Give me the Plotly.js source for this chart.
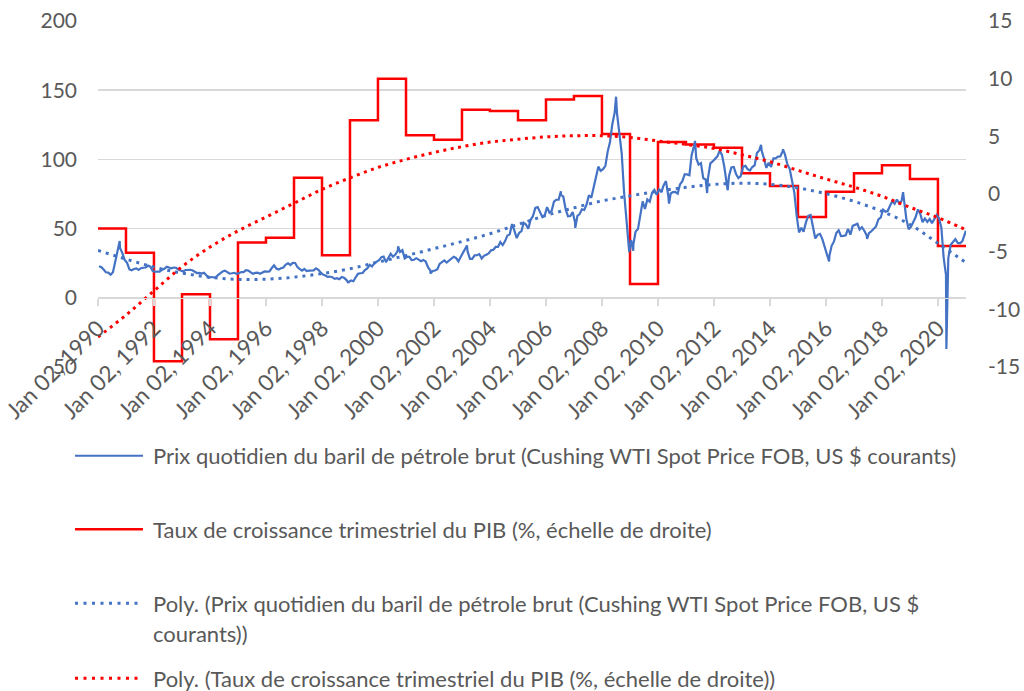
<!DOCTYPE html>
<html><head><meta charset="utf-8">
<script src="https://cdn.plot.ly/plotly-3.0.1.min.js"></script>
<style>html,body{margin:0;padding:0;background:#fff}#chart{width:1024px;height:691px}</style>
</head><body><div id="chart"></div>
<script>
// ---------- DATA ----------
// WTI daily price, read approx. as monthly levels (Jan 1990 .. Dec 2020), US $
const oilStartYear = 1990;
const oilMonthly = [
22.86,22.11,20.39,18.43,18.20,16.70,18.45,27.31,33.51,36.04,32.33,27.28,
25.23,20.48,19.90,20.83,21.23,20.19,21.40,21.69,21.89,23.23,22.46,19.50,
18.79,19.01,18.92,20.23,20.98,22.39,21.78,21.34,21.88,21.69,20.34,19.41,
19.03,20.09,20.32,20.25,19.95,19.09,17.89,18.01,17.50,18.15,16.61,14.52,
15.03,14.78,14.68,16.42,17.89,19.06,19.65,18.38,17.45,17.72,18.07,17.16,
18.04,18.57,18.54,19.90,19.74,18.45,17.33,18.02,18.23,17.43,17.99,19.03,
18.86,19.09,21.33,23.50,21.17,20.42,21.30,21.90,23.97,24.88,23.71,25.23,
25.13,22.18,20.97,19.70,20.82,19.26,19.66,19.95,19.80,21.33,20.19,18.33,
16.72,16.06,15.12,15.35,14.91,13.72,14.17,13.47,15.03,14.46,13.00,11.35,
12.52,12.01,14.68,17.31,17.72,17.92,20.10,21.28,23.80,22.69,25.00,26.10,
27.26,29.37,29.84,25.72,28.79,31.82,29.70,31.26,33.88,33.11,34.42,28.44,
29.59,29.61,27.25,27.49,28.63,27.60,26.43,27.37,26.20,22.17,19.64,19.39,
19.72,20.72,24.53,26.18,27.04,25.52,26.97,28.39,29.66,28.84,26.35,29.46,
32.95,35.83,33.51,28.17,28.11,30.66,30.76,31.57,28.31,30.34,31.11,32.13,
34.31,34.69,36.74,36.75,40.28,38.03,40.78,44.90,45.94,53.28,48.47,43.15,
46.84,48.15,54.19,52.98,49.83,56.35,58.99,64.98,65.59,62.26,58.32,59.41,
65.49,61.63,62.69,69.44,70.84,70.95,74.41,73.04,63.80,58.89,59.08,61.96,
54.51,59.28,60.44,63.98,63.46,67.49,74.12,72.36,79.92,85.80,94.77,91.69,
92.97,95.39,105.45,112.58,125.40,133.88,133.37,116.67,104.11,76.61,57.31,41.12,
41.71,39.09,47.94,49.65,59.03,69.64,64.15,71.05,69.41,75.72,77.99,74.47,
78.33,76.39,81.20,84.29,73.74,75.34,76.32,76.60,75.24,81.89,84.25,89.15,
89.17,88.58,102.86,109.53,100.90,96.26,97.30,86.33,85.52,86.32,97.16,98.56,
100.27,102.20,106.16,103.32,94.66,82.30,87.90,94.13,94.51,89.49,86.53,87.86,
94.76,95.31,92.94,92.02,94.51,95.77,104.67,106.57,106.29,100.54,93.86,97.63,
94.62,100.82,100.80,102.07,102.18,105.79,103.59,96.54,93.21,84.40,75.79,59.29,
47.22,50.58,47.82,54.45,59.27,59.82,50.90,42.87,45.48,46.22,42.44,37.19,
31.68,30.32,37.55,40.75,46.71,48.76,44.65,44.72,45.18,49.78,45.66,51.97,
52.50,53.47,49.33,51.06,48.48,45.18,46.63,48.04,49.82,51.58,56.64,57.88,
63.70,62.23,62.73,66.25,69.98,67.87,70.98,68.06,70.23,70.75,56.96,49.52,
51.38,54.95,58.15,63.86,60.83,54.66,57.35,54.81,56.95,53.96,57.03,59.88,
57.52,50.54,29.21,16.55,28.56,38.31,40.71,42.34,39.63,39.40,40.94,47.02
];
// daily extremes visible in the picture
const oilSpikeDates = ['1990-10-11','1998-12-10','2000-09-20','2001-11-15','2003-03-07','2006-07-14','2007-01-18','2008-07-03','2008-12-22','2009-02-12','2010-05-25','2011-04-29','2011-10-04','2012-06-28','2013-09-06','2014-06-20','2016-02-11','2017-06-21','2018-10-03','2020-04-20','2020-12-31'];
const oilSpikeValues = [41.0,10.8,37.2,17.5,37.8,77.0,50.5,145.3,33.0,34.0,68.0,113.4,75.7,77.7,110.5,107.3,26.2,42.5,76.4,-37.0,48.5];

// annual GDP growth (%), right axis, drawn as steps
const gdpYears = [1990,1991,1992,1993,1994,1995,1996,1997,1998,1999,2000,2001,2002,2003,2004,2005,2006,2007,2008,2009,2010,2011,2012,2013,2014,2015,2016,2017,2018,2019,2020];
const gdpGrowth = [-3.0,-5.1,-14.5,-8.7,-12.6,-4.2,-3.8,1.4,-5.3,6.4,10.0,5.1,4.7,7.3,7.2,6.4,8.2,8.5,5.2,-7.8,4.5,4.3,4.0,1.8,0.7,-2.0,0.2,1.8,2.5,1.3,-4.5];

// polynomial trend lines, read at each 1 January
const trendYears = [1990,1991,1992,1993,1994,1995,1996,1997,1998,1999,2000,2001,2002,2003,2004,2005,2006,2007,2008,2009,2010,2011,2012,2013,2014,2015,2016,2017,2018,2019,2020,2021];
const oilTrend = [34.2,28.0,22.2,17.8,14.9,13.3,13.4,14.9,17.5,21.0,25.8,30.5,35.5,40.7,46.3,53.0,59.5,65.0,70.0,73.6,77.0,79.8,81.9,82.8,82.0,79.4,75.2,69.7,62.4,53.0,39.4,25.4];
const gdpTrend = [-12.4,-10.5,-8.4,-6.3,-4.6,-3.2,-2.0,-0.8,0.4,1.4,2.3,3.0,3.6,4.1,4.5,4.75,4.95,5.05,5.05,4.9,4.6,4.3,3.95,3.4,2.8,2.05,1.3,0.6,-0.2,-1.15,-2.05,-3.1];

// axis tick labels
const leftTicks = [-50,0,50,100,150,200];
const rightTicks = [-15,-10,-5,0,5,10,15];

const seriesNames = [
  'Prix quotidien du baril de pétrole brut (Cushing WTI Spot Price FOB, US $ courants)',
  'Taux de croissance trimestriel du PIB (%, échelle de droite)',
  'Poly. (Prix quotidien du baril de pétrole brut (Cushing WTI Spot Price FOB, US $',
  'courants))',
  'Poly. (Taux de croissance trimestriel du PIB (%, échelle de droite))'
];

// ---------- BUILD ----------
const pad = n => String(n).padStart(2,'0');
let oilPts = oilMonthly.map((v,i)=>{
  const y = oilStartYear + Math.floor(i/12), m = i%12 + 1;
  return [y + '-' + pad(m) + '-15', v];
});
oilSpikeDates.forEach((d,i)=>oilPts.push([d, oilSpikeValues[i]]));
oilPts.sort((a,b)=> a[0] < b[0] ? -1 : a[0] > b[0] ? 1 : 0);

const gdpX = gdpYears.map(y=>y+'-01-01');
const gdpY = gdpGrowth.slice();
gdpX.push((gdpYears[gdpYears.length-1]+1)+'-01-01');
gdpY.push(gdpGrowth[gdpGrowth.length-1]);

const trendX = trendYears.map(y=>y+'-01-01');

const BLUE = '#4472C4', RED = '#FF0000', GREY = '#595959', GRID = '#D9D9D9';
const FONT = 'Lato, "Liberation Sans", sans-serif';

const traces = [
  {x: gdpX, y: gdpY, yaxis:'y', mode:'lines', name: seriesNames[1],
   line:{color:RED, width:2.5, shape:'hv'}, hoverinfo:'skip'},
  {x: oilPts.map(p=>p[0]), y: oilPts.map(p=>p[1]), yaxis:'y2', mode:'lines', name: seriesNames[0],
   line:{color:BLUE, width:2.2}, hoverinfo:'skip'},
  {x: trendX, y: oilTrend, yaxis:'y2', mode:'lines', name: seriesNames[2],
   line:{color:BLUE, width:3, dash:'3px,5px', shape:'spline'}, hoverinfo:'skip'},
  {x: trendX, y: gdpTrend, yaxis:'y3', mode:'lines', name: seriesNames[4],
   line:{color:RED, width:3, dash:'3px,4.5px', shape:'spline'}, hoverinfo:'skip'}
];

// geometry (pixels)
const W = 1024, H = 691, ML = 98, MR = 58, MT = 21, MB = 324;
const PW = W-ML-MR, PH = H-MT-MB;
const px = X => (X-ML)/PW;
const py = Y => (H-MB-Y)/PH;

const legendRows = [
  {y:455.7, color:BLUE, dash:'solid', width:2, texts:[[seriesNames[0],455.5]]},
  {y:529.3, color:RED,  dash:'solid', width:2.5, texts:[[seriesNames[1],529.5]]},
  {y:603.3, color:BLUE, dash:'3px,5.5px', width:3, texts:[[seriesNames[2],603.5],[seriesNames[3],633.5]]},
  {y:678.3, color:RED,  dash:'3px,5.5px', width:3, texts:[[seriesNames[4],678.5]]}
];
const shapes = [], annotations = [];
legendRows.forEach(r=>{
  shapes.push({type:'line', xref:'paper', yref:'paper', x0:px(75), x1:px(143), y0:py(r.y), y1:py(r.y),
    line:{color:r.color, width:r.width, dash:r.dash}});
  r.texts.forEach(t=>annotations.push({xref:'paper', yref:'paper', x:px(151), y:py(t[1]),
    xanchor:'left', yanchor:'middle', showarrow:false, text:t[0], align:'left',
    font:{family:FONT, size:22, color:GREY}}));
});

const yTickFont = {family:FONT, size:21, color:GREY};
const xTickFont = {family:FONT, size:22.5, color:GREY};
const layout = {
  width:W, height:H, margin:{l:ML, r:MR, t:MT, b:MB, pad:0},
  paper_bgcolor:'#fff', plot_bgcolor:'#fff', showlegend:false,
  xaxis:{type:'date', range:['1990-01-01','2021-01-01'], anchor:'free', position:0.2,
    showgrid:false, zeroline:false, showline:true, linecolor:GRID, linewidth:1.5,
    ticks:'outside', ticklen:7, tickwidth:1.5, tickcolor:GRID,
    tick0:'1990-01-02', dtick:'M24', tickformat:'%b %d, %Y', tickangle:-45, tickfont:xTickFont},
  yaxis:{range:[-15,15], tickmode:'array', tickvals:rightTicks, ticktext:rightTicks.map(String),
    side:'right', showgrid:false, zeroline:false, showline:false,
    ticks:'', tickfont:yTickFont, ticklabelstandoff:21},
  yaxis2:{overlaying:'y', side:'left', range:[-50,200], tickmode:'array', tickvals:leftTicks, ticktext:leftTicks.map(String),
    showgrid:true, gridcolor:GRID, gridwidth:1.5,
    zeroline:false, showline:false, ticks:'', tickfont:yTickFont, ticklabelstandoff:20},
  yaxis3:{overlaying:'y', range:[-15,15], visible:false},
  shapes, annotations
};
Plotly.newPlot('chart', traces, layout, {staticPlot:true, displayModeBar:false});
</script></body></html>
